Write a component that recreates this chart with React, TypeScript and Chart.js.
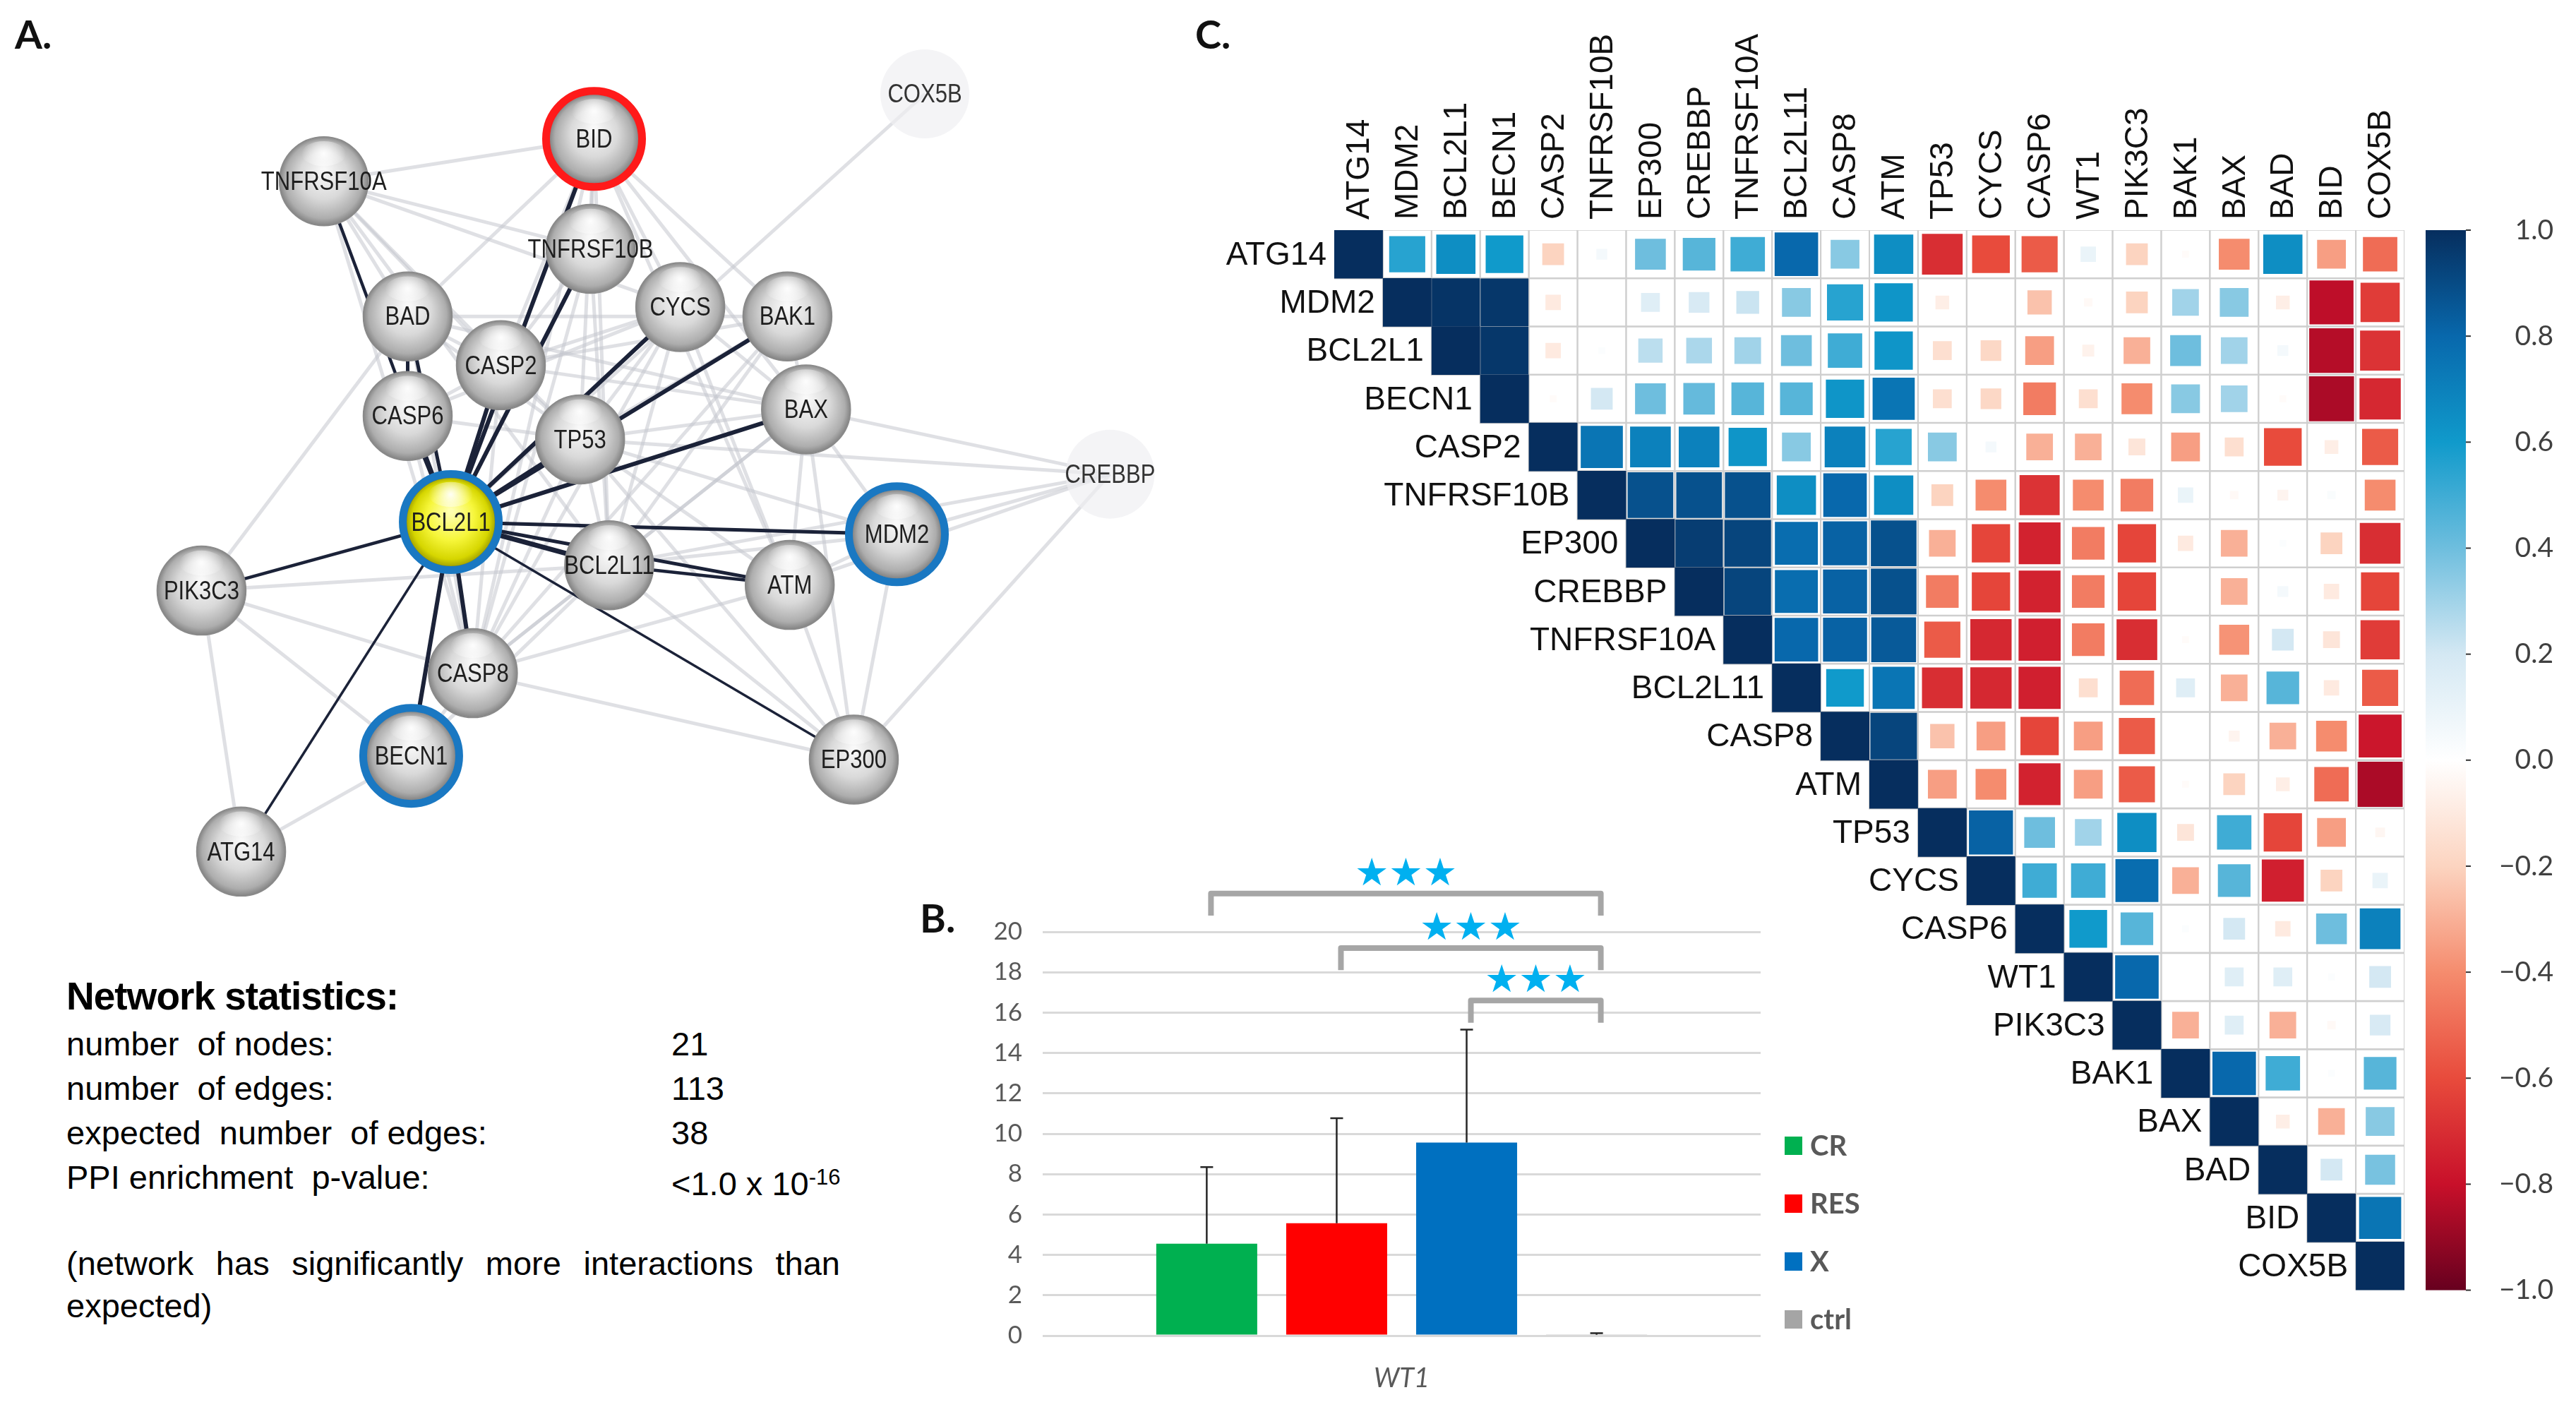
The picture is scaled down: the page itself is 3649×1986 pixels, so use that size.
import React, { useEffect, useRef } from "react";
import { Chart, registerables } from "chart.js";

Chart.register(...registerables);

/* ================= Panel A : STRING network ================= */
const nodeNames = ["COX5B", "BID", "TNFRSF10A", "TNFRSF10B", "BAD", "CYCS", "BAK1", "CASP2", "CASP6", "TP53", "BAX", "CREBBP", "BCL2L1", "MDM2", "BCL2L11", "ATM", "PIK3C3", "CASP8", "BECN1", "EP300", "ATG14"];
const nodeX = [79.4, 51.0, 27.8, 50.7, 35.0, 58.4, 67.6, 43.0, 35.0, 49.8, 69.2, 95.3, 38.7, 77.0, 52.3, 67.8, 17.3, 40.6, 35.3, 73.3, 20.7];
const nodeY = [10.0, 14.8, 19.3, 26.5, 33.7, 32.7, 33.7, 38.9, 44.3, 46.8, 43.6, 50.5, 55.6, 56.9, 60.2, 62.3, 62.9, 71.7, 80.5, 80.9, 90.7];
const faintNodes = ["COX5B", "CREBBP"];
const redRingNodes = ["BID"];
const blueRingNodes = ["BCL2L1", "MDM2", "BECN1"];
const queryNodes = ["BCL2L1"];

const strongFrom = ["BCL2L1", "BCL2L1", "BCL2L1", "BCL2L1", "BCL2L1", "BCL2L1", "BCL2L1", "BCL2L1", "BCL2L1", "BCL2L1", "BCL2L1", "BCL2L1", "BCL2L1", "BCL2L1", "BCL2L1", "BCL2L1", "BCL2L1", "BCL2L1", "BCL2L11", "BAD"];
const strongTo = ["BID", "TNFRSF10B", "TNFRSF10A", "CASP2", "CASP6", "BAD", "CYCS", "BAK1", "BAX", "TP53", "MDM2", "BCL2L11", "ATM", "EP300", "PIK3C3", "ATG14", "BECN1", "CASP8", "ATM", "CASP6"];
const strongWidth = [6, 6, 4.5, 6, 6, 5, 6, 6, 6, 6, 5, 7, 5, 3.5, 4.5, 3.5, 6, 6, 4.5, 5];

const weakFrom = ["TNFRSF10A", "TNFRSF10A", "TNFRSF10A", "TNFRSF10A", "TNFRSF10A", "TNFRSF10A", "TNFRSF10A", "BID", "BID", "BID", "BID", "BID", "BID", "BID", "BID", "COX5B", "CREBBP", "CREBBP", "CREBBP", "CREBBP", "CREBBP", "CREBBP", "EP300", "EP300", "EP300", "EP300", "EP300", "EP300", "MDM2", "MDM2", "MDM2", "MDM2", "ATM", "ATM", "ATM", "ATM", "PIK3C3", "PIK3C3", "PIK3C3", "PIK3C3", "PIK3C3", "ATG14", "BECN1", "BECN1", "TP53", "TP53", "TP53", "TP53", "TP53", "TP53", "TP53", "TP53", "CYCS", "CYCS", "CYCS", "CYCS", "CYCS", "BAK1", "BAK1", "BAK1", "BAK1", "BAX", "BAX", "BAX", "CASP2", "CASP2", "CASP6", "CASP8", "TNFRSF10B", "TNFRSF10B", "TNFRSF10B", "TNFRSF10B", "BAD", "BAD", "BAD", "BAD", "BAD", "BAD"];
const weakTo = ["BID", "TNFRSF10B", "CASP2", "TP53", "CASP8", "BCL2L11", "CYCS", "BAK1", "BAX", "CYCS", "CASP8", "TP53", "BCL2L11", "CASP2", "ATM", "BCL2L1", "TP53", "MDM2", "EP300", "BCL2L11", "BAX", "ATM", "MDM2", "ATM", "TP53", "BAX", "BCL2L11", "CASP8", "TP53", "ATM", "BAX", "BCL2L11", "TP53", "CASP8", "BAX", "CYCS", "BECN1", "ATG14", "CASP8", "BAD", "BCL2L11", "BECN1", "CASP8", "BCL2L11", "BAX", "BAK1", "CYCS", "CASP8", "CASP2", "BCL2L11", "CASP6", "BAD", "CASP8", "BAX", "CASP6", "CASP2", "BCL2L11", "BAX", "CASP8", "BCL2L11", "CASP2", "BCL2L11", "CASP8", "CASP2", "CASP8", "CASP6", "CASP8", "BCL2L11", "CASP8", "BID", "BCL2L11", "CASP2", "BAX", "BAK1", "BID", "CASP8", "CASP2", "TNFRSF10A"];

const statLabels = ["number  of nodes:", "number  of edges:", "expected  number  of edges:", "PPI enrichment  p-value:"];
const statValues = ["21", "113", "38", "<1.0 x 10"];
const statExponent = ["", "", "", "-16"];

/* ================= Panel B : bar chart ================= */
const barCategory = ["WT1"];
const barGroups = ["CR", "RES", "X", "ctrl"];
const barMeans = [4.55, 5.57, 9.56, 0.04];
const barErrors = [3.8, 5.2, 5.6, 0.08];
const barColors = ["#00B050", "#FF0000", "#0070C0", "#A5A5A5"];
const sigFrom = [0, 1, 2];
const sigTo = [3, 3, 3];
const sigLevel = [21.9, 19.2, 16.6];
const sigMark = ["\u2605\u2605\u2605", "\u2605\u2605\u2605", "\u2605\u2605\u2605"];

/* ================= Panel C : correlation matrix ================= */
const corrGenes = ["ATG14", "MDM2", "BCL2L1", "BECN1", "CASP2", "TNFRSF10B", "EP300", "CREBBP", "TNFRSF10A", "BCL2L11", "CASP8", "ATM", "TP53", "CYCS", "CASP6", "WT1", "PIK3C3", "BAK1", "BAX", "BAD", "BID", "COX5B"];
// upper triangle, each row lists correlations with the genes to its right
const rATG14 = [0.55, 0.65, 0.6, -0.2, 0.05, 0.4, 0.45, 0.5, 0.8, 0.35, 0.65, -0.7, -0.6, -0.55, 0.1, -0.2, -0.02, -0.4, 0.65, -0.35, -0.5];
const rMDM2 = [0.98, 0.97, -0.1, 0.0, 0.15, 0.18, 0.22, 0.35, 0.55, 0.62, -0.08, 0.0, -0.25, -0.03, -0.2, 0.3, 0.35, -0.08, -0.82, -0.65];
const rBCL2L1 = [0.97, -0.1, 0.02, 0.25, 0.28, 0.3, 0.4, 0.5, 0.62, -0.15, -0.18, -0.35, -0.06, -0.3, 0.4, 0.3, 0.05, -0.84, -0.68];
const rBECN1 = [-0.02, 0.2, 0.4, 0.42, 0.45, 0.45, 0.62, 0.75, -0.15, -0.18, -0.45, -0.15, -0.4, 0.35, 0.3, -0.02, -0.86, -0.72];
const rCASP2 = [0.75, 0.7, 0.7, 0.62, 0.35, 0.7, 0.55, 0.35, 0.05, -0.3, -0.3, -0.12, -0.35, -0.15, -0.6, -0.08, -0.55];
const rTNFRSF10B = [0.88, 0.88, 0.88, 0.65, 0.8, 0.65, -0.2, -0.4, -0.68, -0.4, -0.45, 0.1, -0.03, -0.05, 0.03, -0.4];
const rEP300 = [0.95, 0.92, 0.78, 0.82, 0.88, -0.3, -0.62, -0.74, -0.45, -0.62, -0.1, -0.3, 0.02, -0.2, -0.7];
const rCREBBP = [0.92, 0.78, 0.82, 0.88, -0.45, -0.62, -0.74, -0.45, -0.62, 0.0, -0.3, 0.05, -0.1, -0.62];
const rTNFRSF10A = [0.8, 0.82, 0.85, -0.55, -0.72, -0.75, -0.45, -0.7, -0.02, -0.38, 0.2, -0.12, -0.65];
const rBCL2L11 = [0.6, 0.75, -0.7, -0.72, -0.75, -0.15, -0.5, 0.15, -0.3, 0.45, -0.1, -0.55];
const rCASP8 = [0.92, -0.25, -0.35, -0.62, -0.35, -0.55, 0.0, -0.05, -0.3, -0.4, -0.78];
const rATM = [-0.35, -0.4, -0.74, -0.35, -0.55, -0.02, -0.2, -0.08, -0.5, -0.86];
const rTP53 = [0.82, 0.4, 0.3, 0.65, -0.12, 0.5, -0.62, -0.35, -0.04];
const rCYCS = [0.5, 0.5, 0.78, -0.3, 0.45, -0.75, -0.2, 0.1];
const rCASP6 = [0.6, 0.45, 0.02, 0.2, -0.1, 0.4, 0.7];
const rWT1 = [0.8, 0.0, 0.15, 0.15, 0.02, 0.2];
const rPIK3C3 = [-0.3, 0.15, -0.3, -0.03, 0.18];
const rBAK1 = [0.8, 0.5, 0.02, 0.45];
const rBAX = [-0.08, -0.3, 0.35];
const rBAD = [0.2, 0.38];
const rBID = [0.75];
const rCOX5B: number[] = [];
const corrRows = [rATG14, rMDM2, rBCL2L1, rBECN1, rCASP2, rTNFRSF10B, rEP300, rCREBBP, rTNFRSF10A, rBCL2L11, rCASP8, rATM, rTP53, rCYCS, rCASP6, rWT1, rPIK3C3, rBAK1, rBAX, rBAD, rBID, rCOX5B];

const cbarStops = [-1, -0.8, -0.6, -0.4, -0.2, 0, 0.2, 0.4, 0.6, 0.8, 1];
const cbarColors = ["#67001F", "#C8102A", "#E84B3C", "#F58C6E", "#FCD4C0", "#FFFFFF", "#D4E8F3", "#6EBEDE", "#109ACB", "#0868AC", "#062E5E"];

/* ================= helpers ================= */
const ARIAL = '"Liberation Sans", Arial, sans-serif';
const CALIBRI = 'Lato, "Open Sans", sans-serif';

function hexToRgb(h: string) {
  const n = parseInt(h.slice(1), 16);
  return [(n >> 16) & 255, (n >> 8) & 255, n & 255];
}
function corrColor(v: number) {
  const c = Math.max(-1, Math.min(1, v));
  let k = 0;
  while (k < cbarStops.length - 2 && c > cbarStops[k + 1]) k++;
  const t = (c - cbarStops[k]) / (cbarStops[k + 1] - cbarStops[k]);
  const a = hexToRgb(cbarColors[k]);
  const b = hexToRgb(cbarColors[k + 1]);
  const m = a.map((x, i) => Math.round(x + (b[i] - x) * t));
  return `rgb(${m[0]},${m[1]},${m[2]})`;
}

/* ================= Panel A chart ================= */
const NODE_R = 63;
const spherePlugin = {
  id: "spheres",
  afterDatasetsDraw(chart: any) {
    const ctx = chart.ctx;
    const meta = chart.getDatasetMeta(0);
    meta.data.forEach((el: any, i: number) => {
      const name = nodeNames[i];
      const x = el.x;
      const y = el.y;
      const r = NODE_R;
      ctx.save();
      if (faintNodes.includes(name)) {
        ctx.beginPath();
        ctx.arc(x, y, r, 0, Math.PI * 2);
        ctx.fillStyle = "rgba(240,240,242,0.7)";
        ctx.fill();
      } else {
        const yellow = queryNodes.includes(name);
        const g = ctx.createRadialGradient(x, y - r * 0.25, r * 0.05, x, y, r * 1.02);
        if (yellow) {
          g.addColorStop(0, "#ffffb0");
          g.addColorStop(0.5, "#f6f63a");
          g.addColorStop(0.85, "#d6d600");
          g.addColorStop(1, "#9e9e00");
        } else {
          g.addColorStop(0, "#f8f8f8");
          g.addColorStop(0.5, "#d9d9d9");
          g.addColorStop(0.85, "#adadad");
          g.addColorStop(1, "#7e7e7e");
        }
        ctx.beginPath();
        ctx.arc(x, y, r, 0, Math.PI * 2);
        ctx.fillStyle = g;
        ctx.fill();
        ctx.lineWidth = 1.5;
        ctx.strokeStyle = yellow ? "#8f8f00" : "#8a8a8a";
        ctx.stroke();
        const hx = x;
        const hy = y - r * 0.62;
        const h = ctx.createRadialGradient(hx, hy, 0, hx, hy, r * 0.5);
        h.addColorStop(0, "rgba(255,255,255,0.95)");
        h.addColorStop(1, "rgba(255,255,255,0)");
        ctx.beginPath();
        ctx.ellipse(hx, hy, r * 0.5, r * 0.28, 0, 0, Math.PI * 2);
        ctx.fillStyle = h;
        ctx.fill();
      }
      let ring = "";
      if (redRingNodes.includes(name)) ring = "#FF1A1A";
      if (blueRingNodes.includes(name)) ring = "#1A78C2";
      if (ring) {
        ctx.beginPath();
        ctx.arc(x, y, r + 5, 0, Math.PI * 2);
        ctx.lineWidth = 11;
        ctx.strokeStyle = ring;
        ctx.stroke();
      }
      ctx.fillStyle = faintNodes.includes(name) ? "#333" : "#1e1e1e";
      ctx.font = `37px ${ARIAL}`;
      ctx.textAlign = "center";
      ctx.textBaseline = "middle";
      ctx.translate(x, y + 2);
      ctx.scale(0.84, 1);
      ctx.fillText(name, 0, 0);
      ctx.restore();
    });
  },
};

function makeNetwork(canvas: HTMLCanvasElement) {
  const P = (n: string) => {
    const i = nodeNames.indexOf(n);
    return { x: nodeX[i], y: nodeY[i] };
  };
  const weakSets = weakFrom.map((f, k) => ({
    type: "line",
    data: [P(f), P(weakTo[k])],
    borderColor: "rgba(196,198,206,0.55)",
    borderWidth: 5,
    pointRadius: 0,
    order: 3,
    clip: false,
  }));
  const strongSets = strongFrom.map((f, k) => ({
    type: "line",
    data: [P(f), P(strongTo[k])],
    borderColor: "#1b2238",
    borderWidth: strongWidth[k],
    pointRadius: 0,
    order: 2,
    clip: false,
  }));
  const nodeSet = {
    type: "scatter",
    data: nodeNames.map((n, i) => ({ x: nodeX[i], y: nodeY[i] })),
    pointRadius: NODE_R,
    pointBackgroundColor: "rgba(0,0,0,0)",
    pointBorderWidth: 0,
    order: 1,
    clip: false,
  };
  return new Chart(canvas, {
    type: "scatter",
    data: { datasets: [nodeSet, ...strongSets, ...weakSets] as any },
    options: {
      responsive: false,
      animation: false,
      devicePixelRatio: 1,
      events: [],
      layout: { padding: 0, autoPadding: false },
      plugins: { legend: { display: false }, tooltip: { enabled: false } },
      scales: {
        x: { type: "linear", min: 0, max: 100, display: false },
        y: { type: "linear", min: 0, max: 100, reverse: true, display: false },
      },
    } as any,
    plugins: [spherePlugin],
  });
}

/* ================= Panel B chart ================= */
const barExtrasPlugin = {
  id: "barExtras",
  afterDatasetsDraw(chart: any) {
    const ctx = chart.ctx;
    const ys = chart.scales.y;
    const centers = barGroups.map((_, i) => chart.getDatasetMeta(i).data[0].x);
    ctx.save();
    ctx.strokeStyle = "#262626";
    ctx.lineWidth = 2.5;
    barGroups.forEach((_, i) => {
      const x = centers[i];
      const y0 = ys.getPixelForValue(barMeans[i]);
      const y1 = ys.getPixelForValue(barMeans[i] + barErrors[i]);
      ctx.beginPath();
      ctx.moveTo(x, y0);
      ctx.lineTo(x, y1);
      ctx.moveTo(x - 9, y1);
      ctx.lineTo(x + 9, y1);
      ctx.stroke();
    });
    sigFrom.forEach((f, k) => {
      const x1 = centers[f] + 6;
      const x2 = centers[sigTo[k]] + 6;
      const yH = ys.getPixelForValue(sigLevel[k]);
      const yL = ys.getPixelForValue(sigLevel[k] - 1.1);
      ctx.beginPath();
      ctx.moveTo(x1, yL);
      ctx.lineTo(x1, yH);
      ctx.lineTo(x2, yH);
      ctx.lineTo(x2, yL);
      ctx.strokeStyle = "#A6A6A6";
      ctx.lineWidth = 8;
      ctx.lineJoin = "round";
      ctx.stroke();
      ctx.fillStyle = "#00B0F0";
      ctx.font = '54px "DejaVu Sans", sans-serif';
      ctx.textAlign = "center";
      ctx.textBaseline = "alphabetic";
      ctx.fillText(sigMark[k], (x1 + x2) / 2, yH - 12);
    });
    ctx.restore();
  },
  afterDraw(chart: any) {
    const ctx = chart.ctx;
    const a = chart.chartArea;
    ctx.save();
    barGroups.forEach((g, i) => {
      const cy = a.bottom - 23 - (barGroups.length - 1 - i) * 82;
      const x = a.right + 34;
      ctx.fillStyle = barColors[i];
      ctx.fillRect(x, cy - 13, 25, 26);
      ctx.fillStyle = "#595959";
      ctx.font = `bold 40px ${CALIBRI}`;
      ctx.textAlign = "left";
      ctx.textBaseline = "middle";
      ctx.fillText(g, x + 36, cy + 1);
    });
    ctx.restore();
  },
};

function makeBars(canvas: HTMLCanvasElement) {
  return new Chart(canvas, {
    type: "bar",
    data: {
      labels: barCategory,
      datasets: barGroups.map((g, i) => ({
        label: g,
        data: [barMeans[i]],
        backgroundColor: barColors[i],
        categoryPercentage: 0.724,
        barPercentage: 0.777,
      })),
    },
    options: {
      responsive: false,
      animation: false,
      devicePixelRatio: 1,
      events: [],
      layout: { padding: { top: 140, right: 206, left: 0, bottom: 0 } },
      plugins: { legend: { display: false }, tooltip: { enabled: false } },
      scales: {
        x: {
          grid: { display: false, drawTicks: false },
          border: { display: false },
          ticks: { font: { family: CALIBRI, size: 38, style: "italic" }, color: "#595959", padding: 38 },
          afterFit(s: any) {
            s.height = 94;
          },
        },
        y: {
          min: 0,
          max: 20,
          ticks: { stepSize: 2, font: { family: CALIBRI, size: 35 }, color: "#595959", padding: 29 },
          grid: { color: "#D9D9D9", lineWidth: 3, drawTicks: false },
          border: { display: false },
          afterFit(s: any) {
            s.width = 197;
          },
        },
      },
    } as any,
    plugins: [barExtrasPlugin],
  });
}

/* ================= Panel C chart ================= */
const heatPlugin = {
  id: "heatExtras",
  afterDraw(chart: any) {
    const ctx = chart.ctx;
    const xs = chart.scales.x;
    const ys = chart.scales.y;
    const cb = chart.scales.cbar;
    const a = chart.chartArea;
    ctx.save();
    ctx.fillStyle = "#111";
    ctx.font = `46px ${ARIAL}`;
    corrGenes.forEach((g, i) => {
      ctx.textAlign = "right";
      ctx.textBaseline = "middle";
      ctx.fillText(g, xs.getPixelForValue(i - 0.5) - 11, ys.getPixelForValue(i) + 2);
      ctx.save();
      ctx.translate(xs.getPixelForValue(i) + 2, ys.getPixelForValue(-0.5) - 15);
      ctx.rotate(-Math.PI / 2);
      ctx.textAlign = "left";
      ctx.fillText(g, 0, 0);
      ctx.restore();
    });
    const top = cb.getPixelForValue(1);
    const bot = cb.getPixelForValue(-1);
    const x0 = a.right + 30;
    const w = 57;
    const grad = ctx.createLinearGradient(0, bot, 0, top);
    cbarStops.forEach((s, k) => grad.addColorStop((s + 1) / 2, cbarColors[k]));
    ctx.fillStyle = grad;
    ctx.fillRect(x0, top, w, bot - top);
    ctx.strokeStyle = "#333";
    ctx.lineWidth = 2;
    cb.ticks.forEach((t: any) => {
      const y = cb.getPixelForValue(t.value);
      ctx.beginPath();
      ctx.moveTo(x0 + w, y);
      ctx.lineTo(x0 + w + 7, y);
      ctx.stroke();
    });
    ctx.restore();
  },
};

function makeHeat(canvas: HTMLCanvasElement) {
  const cells: any[] = [];
  corrRows.forEach((row, i) => {
    cells.push({ x: i, y: i, v: 1 });
    row.forEach((v, k) => cells.push({ x: i + 1 + k, y: i, v }));
  });
  const cellPx = (chart: any) => Math.abs(chart.scales.x.getPixelForValue(1) - chart.scales.x.getPixelForValue(0));
  return new Chart(canvas, {
    type: "scatter",
    data: {
      datasets: [
        {
          data: cells,
          pointStyle: "rect",
          order: 0,
          pointBorderWidth: 0,
          pointRadius: (c: any) => (c.raw ? (cellPx(c.chart) * Math.sqrt(Math.abs(c.raw.v))) / Math.SQRT2 : 0),
          pointBackgroundColor: (c: any) => (c.raw ? corrColor(c.raw.v) : "#fff"),
        },
        {
          data: cells,
          pointStyle: "rect",
          order: 1,
          pointBorderWidth: 2,
          pointBorderColor: "#CFCFCF",
          pointBackgroundColor: "rgba(255,255,255,0)",
          pointRadius: (c: any) => cellPx(c.chart) / Math.SQRT2,
        },
      ] as any,
    },
    options: {
      responsive: false,
      animation: false,
      devicePixelRatio: 1,
      events: [],
      layout: { padding: { left: 210, top: 326, right: 32, bottom: 146 }, autoPadding: false },
      plugins: { legend: { display: false }, tooltip: { enabled: false } },
      scales: {
        x: { type: "linear", min: -0.5, max: 21.5, display: false },
        y: { type: "linear", min: -0.5, max: 21.5, reverse: true, display: false },
        cbar: {
          type: "linear",
          position: "right",
          min: -1,
          max: 1,
          grid: { display: false },
          border: { display: false },
          ticks: {
            stepSize: 0.2,
            crossAlign: "far",
            padding: 135,
            color: "#404040",
            font: { family: CALIBRI, size: 39 },
            callback: (v: number) => {
              if (Math.abs(v) < 1e-9) return "0.0";
              return (v < 0 ? "\u2212" : "") + Math.abs(v).toFixed(1);
            },
          },
          afterFit(s: any) {
            s.width = 211;
          },
        },
      },
    } as any,
    plugins: [heatPlugin],
  });
}

/* ================= App ================= */
export default function App() {
  const aRef = useRef<HTMLCanvasElement>(null);
  const bRef = useRef<HTMLCanvasElement>(null);
  const cRef = useRef<HTMLCanvasElement>(null);

  useEffect(() => {
    const charts = [makeNetwork(aRef.current!), makeBars(bRef.current!), makeHeat(cRef.current!)];
    return () => charts.forEach((c) => c.destroy());
  }, []);

  const abs = (l: number, t: number): React.CSSProperties => ({ position: "absolute", left: l, top: t, whiteSpace: "pre", margin: 0 });
  const statSize = 47;
  const letter: React.CSSProperties = { fontFamily: CALIBRI, fontWeight: 700, fontSize: 56, lineHeight: "56px", color: "#111" };

  return (
    <div style={{ position: "absolute", left: 0, top: 0, width: 3649, height: 1986, background: "#fff", overflow: "hidden" }}>
      <canvas ref={aRef} width={1650} height={1330} style={{ position: "absolute", left: 0, top: 0 }} />
      <canvas ref={bRef} width={1420} height={806} style={{ position: "absolute", left: 1280, top: 1180 }} />
      <canvas ref={cRef} width={1969} height={1986} style={{ position: "absolute", left: 1680, top: 0 }} />

      <div style={{ ...abs(21, 20), ...letter }}>A.</div>
      <div style={{ ...abs(1303, 1272), ...letter }}>B.</div>
      <div style={{ ...abs(1693, 20), ...letter }}>C.</div>

      <div style={{ ...abs(94, 1431 - 0.846 * 55), fontFamily: ARIAL, fontWeight: 700, fontSize: 55, lineHeight: "55px", color: "#000", letterSpacing: -1 }}>
        Network statistics:
      </div>
      {statLabels.map((t, i) => (
        <div key={"l" + i} style={{ ...abs(94, 1495 + i * 63 - 0.846 * statSize), fontFamily: ARIAL, fontSize: statSize, lineHeight: statSize + "px", color: "#000" }}>
          {t}
        </div>
      ))}
      {statValues.map((t, i) => (
        <div key={"v" + i} style={{ ...abs(951, 1495 + i * 63 - 0.846 * statSize), fontFamily: ARIAL, fontSize: statSize, lineHeight: statSize + "px", color: "#000" }}>
          {t}
          {statExponent[i] ? <sup style={{ fontSize: 31, verticalAlign: "15px" }}>{statExponent[i]}</sup> : null}
        </div>
      ))}
      <div
        style={{
          position: "absolute",
          left: 94,
          top: 1806 - 0.846 * statSize,
          width: 1096,
          fontFamily: ARIAL,
          fontSize: statSize,
          lineHeight: statSize + "px",
          textAlign: "justify",
          textAlignLast: "justify",
          color: "#000",
        }}
      >
        (network has significantly more interactions than
      </div>
      <div style={{ ...abs(94, 1866 - 0.846 * statSize), fontFamily: ARIAL, fontSize: statSize, lineHeight: statSize + "px", color: "#000" }}>expected)</div>
    </div>
  );
}
